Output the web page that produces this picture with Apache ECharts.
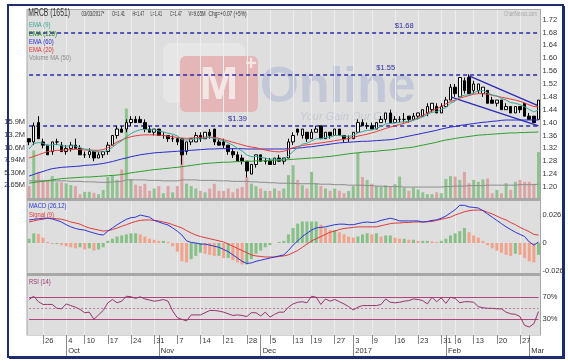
<!DOCTYPE html>
<html><head><meta charset="utf-8">
<script src="https://cdn.jsdelivr.net/npm/echarts@6/dist/echarts.min.js"></script>
<style>html,body{margin:0;padding:0;background:#fff}#c{width:568px;height:363px}</style>
</head><body><div id="c"></div>
<script>
const dates = ['2016-09-21','2016-09-22','2016-09-23','2016-09-26','2016-09-27','2016-09-28','2016-09-29','2016-09-30','2016-10-04','2016-10-05','2016-10-06','2016-10-07','2016-10-10','2016-10-11','2016-10-12','2016-10-13','2016-10-14','2016-10-17','2016-10-18','2016-10-19','2016-10-20','2016-10-21','2016-10-24','2016-10-25','2016-10-26','2016-10-27','2016-10-28','2016-10-31','2016-11-01','2016-11-02','2016-11-03','2016-11-04','2016-11-07','2016-11-08','2016-11-09','2016-11-10','2016-11-11','2016-11-14','2016-11-15','2016-11-16','2016-11-17','2016-11-18','2016-11-21','2016-11-22','2016-11-23','2016-11-24','2016-11-25','2016-11-28','2016-11-29','2016-11-30','2016-12-01','2016-12-02','2016-12-05','2016-12-06','2016-12-07','2016-12-08','2016-12-09','2016-12-13','2016-12-14','2016-12-15','2016-12-16','2016-12-19','2016-12-20','2016-12-21','2016-12-22','2016-12-23','2016-12-27','2016-12-28','2016-12-29','2016-12-30','2017-01-03','2017-01-04','2017-01-05','2017-01-06','2017-01-09','2017-01-10','2017-01-11','2017-01-12','2017-01-13','2017-01-16','2017-01-17','2017-01-18','2017-01-19','2017-01-20','2017-01-23','2017-01-24','2017-01-25','2017-01-26','2017-01-27','2017-01-31','2017-02-02','2017-02-03','2017-02-06','2017-02-07','2017-02-08','2017-02-10','2017-02-13','2017-02-14','2017-02-15','2017-02-16','2017-02-17','2017-02-20','2017-02-21','2017-02-22','2017-02-23','2017-02-24','2017-02-27','2017-02-28','2017-03-01','2017-03-02','2017-03-03'];

const openP = [1.35,1.34,1.40,1.34,1.33,1.31,1.34,1.33,1.31,1.32, 1.33,1.32,1.30,1.30,1.31,1.29,1.30,1.31,1.33,1.36, 1.38,1.38,1.40,1.41,1.41,1.40,1.38,1.37,1.38,1.36, 1.36,1.35,1.35,1.35,1.31,1.34,1.34,1.36,1.35,1.37, 1.38,1.34,1.34,1.33,1.31,1.30,1.29,1.28,1.24,1.27, 1.30,1.28,1.28,1.27,1.29,1.28,1.29,1.34,1.38,1.36, 1.37,1.35,1.37,1.39,1.35,1.37,1.36,1.38,1.36,1.35, 1.35,1.37,1.40,1.39,1.39,1.38,1.40,1.41,1.43,1.40, 1.41,1.41,1.42,1.41,1.42,1.42,1.43,1.44,1.45,1.43, 1.45,1.47,1.51,1.48,1.53,1.54,1.50,1.50,1.49,1.50, 1.47,1.46,1.47,1.44,1.45,1.43,1.45,1.46,1.42,1.42,1.41];
const highP = [1.35,1.40,1.42,1.35,1.33,1.34,1.35,1.34,1.33,1.34, 1.35,1.33,1.31,1.32,1.31,1.31,1.31,1.34,1.36,1.39, 1.39,1.41,1.42,1.42,1.42,1.41,1.39,1.38,1.38,1.37, 1.36,1.36,1.35,1.35,1.34,1.35,1.37,1.37,1.37,1.38, 1.38,1.35,1.35,1.33,1.32,1.31,1.30,1.28,1.27,1.30, 1.30,1.29,1.29,1.29,1.30,1.29,1.35,1.37,1.38,1.38, 1.37,1.38,1.39,1.39,1.37,1.37,1.38,1.38,1.36,1.36, 1.37,1.41,1.41,1.40,1.40,1.40,1.42,1.43,1.44,1.42, 1.42,1.43,1.42,1.43,1.43,1.44,1.46,1.46,1.46,1.46, 1.48,1.52,1.52,1.54,1.54,1.55,1.53,1.52,1.51,1.50, 1.48,1.47,1.47,1.46,1.45,1.45,1.45,1.46,1.43,1.42,1.47];
const lowP = [1.33,1.33,1.35,1.32,1.30,1.30,1.33,1.31,1.30,1.31, 1.32,1.30,1.29,1.29,1.28,1.29,1.29,1.30,1.33,1.35, 1.37,1.37,1.39,1.40,1.40,1.37,1.37,1.36,1.36,1.35, 1.34,1.34,1.33,1.27,1.30,1.33,1.34,1.34,1.35,1.35, 1.33,1.33,1.32,1.30,1.29,1.28,1.27,1.23,1.24,1.26, 1.28,1.27,1.27,1.27,1.28,1.27,1.29,1.33,1.36,1.35, 1.34,1.35,1.37,1.35,1.35,1.35,1.36,1.36,1.34,1.34, 1.35,1.37,1.39,1.38,1.38,1.38,1.40,1.40,1.40,1.40, 1.40,1.40,1.40,1.41,1.41,1.42,1.42,1.43,1.43,1.43, 1.45,1.47,1.48,1.48,1.49,1.49,1.49,1.49,1.48,1.46, 1.46,1.45,1.44,1.44,1.43,1.43,1.43,1.42,1.41,1.40,1.41];
const closeP = [1.34,1.39,1.35,1.33,1.30,1.34,1.34,1.31,1.32,1.33, 1.32,1.30,1.30,1.31,1.29,1.30,1.31,1.33,1.36,1.38, 1.37,1.40,1.41,1.40,1.40,1.38,1.37,1.38,1.36,1.36, 1.35,1.35,1.34,1.30,1.34,1.35,1.36,1.35,1.37,1.36, 1.34,1.33,1.33,1.31,1.30,1.28,1.28,1.25,1.27,1.30, 1.28,1.28,1.27,1.29,1.28,1.29,1.34,1.36,1.37,1.38, 1.35,1.37,1.38,1.35,1.37,1.36,1.38,1.36,1.35,1.35, 1.37,1.40,1.39,1.39,1.38,1.40,1.41,1.43,1.40,1.41, 1.41,1.41,1.41,1.42,1.43,1.44,1.45,1.46,1.43,1.45, 1.47,1.51,1.49,1.54,1.50,1.49,1.52,1.52,1.51,1.46, 1.46,1.47,1.44,1.45,1.43,1.45,1.44,1.42,1.41,1.40,1.47];
// volume in millions
const volume = [2.5,10.0,5.5,3.8,3.8,4.6,3.3,3.3,3.1,2.7, 2.5,0.8,1.3,1.3,1.1,0.8,1.7,4.4,4.8,3.8, 6.0,18.8,4.0,2.8,2.5,3.0,1.5,2.0,2.5,1.0, 2.5,1.2,2.5,12.2,3.0,2.5,2.0,1.5,1.2,2.0, 3.0,1.5,1.5,2.0,1.2,2.0,2.3,4.4,3.0,2.5, 2.0,1.5,1.5,2.0,1.5,2.0,4.8,6.9,3.8,2.7, 2.0,5.5,3.0,2.5,2.0,1.5,2.0,1.5,1.0,1.5, 2.5,9.5,4.4,3.8,3.0,2.5,2.4,2.7,2.4,2.9, 4.5,2.2,1.5,2.2,1.8,1.2,0.8,0.8,1.2,1.0, 4.0,4.6,4.5,3.8,5.5,3.1,3.8,3.4,3.9,4.1, 1.0,1.7,1.0,3.1,1.7,3.4,3.8,3.4,3.4,3.0,9.65];
const volMA50 = [3.6,3.6,3.6,3.6,3.6,3.6,3.6,3.6,3.6,3.5, 3.5,3.5,3.4,3.4,3.4,3.3,3.3,3.3,3.4,3.4, 3.5,3.8,3.8,3.8,3.8,3.8,3.7,3.7,3.7,3.6, 3.6,3.6,3.6,3.8,3.8,3.8,3.8,3.7,3.7,3.7, 3.7,3.6,3.6,3.6,3.5,3.5,3.5,3.5,3.4,3.4, 3.3,3.3,3.2,3.2,3.1,3.1,3.1,3.1,3.0,3.0, 3.0,3.0,3.0,2.9,2.9,2.9,2.8,2.8,2.8,2.7, 2.7,2.7,2.7,2.6,2.6,2.5,2.5,2.4,2.4,2.4, 2.4,2.3,2.3,2.3,2.3,2.3,2.3,2.3,2.3,2.3, 2.4,2.4,2.5,2.5,2.5,2.6,2.6,2.6,2.6,2.7, 2.7,2.7,2.7,2.7,2.7,2.7,2.8,2.8,2.8,2.8,2.9];
const ema9 = [1.318,1.335,1.338,1.336,1.329,1.331,1.333,1.328,1.327,1.328, 1.327,1.322,1.318,1.316,1.311,1.309,1.309,1.314,1.323,1.335, 1.343,1.356,1.366,1.373,1.378,1.379,1.377,1.378,1.374,1.371, 1.367,1.364,1.359,1.347,1.346,1.347,1.349,1.349,1.353,1.354, 1.351,1.347,1.344,1.337,1.330,1.320,1.312,1.300,1.294,1.295, 1.292,1.290,1.286,1.287,1.285,1.286,1.297,1.310,1.322,1.333, 1.336,1.343,1.350,1.350,1.354,1.355,1.360,1.360,1.358,1.357, 1.360,1.368,1.372,1.376,1.377,1.382,1.388,1.396,1.397,1.399, 1.401,1.403,1.404,1.407,1.412,1.417,1.425,1.432,1.434,1.441, 1.447,1.460,1.466,1.481,1.485,1.486,1.493,1.498,1.500,1.492, 1.486,1.483,1.475,1.470,1.462,1.460,1.456,1.449,1.441,1.433,1.440];
const ema20 = [1.290,1.295,1.300,1.305,1.310,1.312,1.314,1.314,1.315,1.316, 1.317,1.316,1.315,1.315,1.314,1.314,1.316,1.322,1.330,1.340, 1.346,1.352,1.356,1.359,1.361,1.362,1.362,1.362,1.361,1.360, 1.358,1.356,1.354,1.352,1.351,1.352,1.353,1.354,1.355,1.355, 1.354,1.351,1.347,1.343,1.339,1.335,1.331,1.327,1.324,1.322, 1.318,1.315,1.312,1.310,1.309,1.311,1.316,1.322,1.326,1.329, 1.331,1.333,1.335,1.337,1.339,1.341,1.344,1.346,1.348,1.351, 1.354,1.358,1.361,1.364,1.368,1.372,1.377,1.382,1.386,1.390, 1.394,1.398,1.402,1.408,1.415,1.422,1.429,1.436,1.443,1.450, 1.458,1.465,1.470,1.476,1.480,1.484,1.488,1.490,1.490,1.488, 1.485,1.482,1.479,1.476,1.473,1.470,1.466,1.461,1.455,1.450,1.449];
const ema60 = [1.234,1.239,1.244,1.248,1.253,1.257,1.259,1.261,1.262,1.263, 1.264,1.265,1.267,1.268,1.269,1.271,1.273,1.276,1.279,1.283, 1.287,1.290,1.294,1.297,1.300,1.302,1.304,1.306,1.307,1.308, 1.309,1.310,1.311,1.312,1.313,1.314,1.315,1.316,1.317,1.318, 1.318,1.319,1.319,1.319,1.319,1.319,1.319,1.318,1.318,1.318, 1.318,1.318,1.318,1.318,1.318,1.318,1.319,1.320,1.321,1.322, 1.324,1.325,1.327,1.329,1.331,1.333,1.335,1.337,1.338,1.339, 1.340,1.341,1.342,1.342,1.343,1.344,1.345,1.346,1.347,1.349, 1.352,1.355,1.358,1.361,1.364,1.367,1.370,1.373,1.376,1.380, 1.383,1.386,1.388,1.391,1.393,1.395,1.397,1.399,1.401,1.402, 1.404,1.405,1.407,1.408,1.408,1.408,1.408,1.408,1.408,1.408,1.408];
const ema120 = [1.212,1.214,1.216,1.218,1.220,1.222,1.224,1.226,1.227,1.228, 1.229,1.230,1.231,1.231,1.232,1.233,1.234,1.235,1.236,1.237, 1.239,1.241,1.244,1.246,1.248,1.250,1.252,1.254,1.255,1.257, 1.258,1.260,1.261,1.263,1.265,1.267,1.269,1.271,1.273,1.274, 1.275,1.276,1.277,1.277,1.278,1.279,1.279,1.280,1.280,1.281, 1.281,1.282,1.282,1.283,1.283,1.284,1.285,1.286,1.287,1.288, 1.289,1.290,1.291,1.292,1.294,1.295,1.297,1.299,1.301,1.303, 1.305,1.306,1.308,1.309,1.310,1.311,1.313,1.314,1.315,1.317, 1.319,1.321,1.322,1.324,1.327,1.330,1.333,1.336,1.339,1.343, 1.346,1.348,1.351,1.353,1.355,1.357,1.359,1.361,1.362,1.363, 1.364,1.365,1.366,1.367,1.368,1.368,1.369,1.369,1.370,1.370,1.371];
const macd = [.0214,.022,.0225,.023,.023,.0223,.021,.0195,.017,.015, .0135,.0125,.012,.0105,.0093,.008,.0074,.011,.014,.017, .0195,.022,.0235,.024,.026,.025,.024,.021,.0195,.018, .0167,.014,.011,.0074,.002,.0005,0,-.001,-.001,-.002, -.003,-.004,-.006,-.008,-.011,-.014,-.017,-.019,-.0185,-.017, -.016,-.015,-.014,-.013,-.012,-.011,-.007,-.002,.002,.006, .009,.012,.014,.0145,.015,.016,.017,.0175,.0175,.017, .017,.018,.019,.0195,.019,.0195,.021,.022,.023,.022, .0205,.0205,.0205,.0205,.0205,.0195,.02,.021,.0215,.023, .025,.028,.031,.035,.035,.0335,.033,.0325,.03,.027, .024,.021,.018,.015,.0125,.01,.008,.006,.001,-.002,.001];
const signal = [.0195,.0205,.0215,.022,.023,.023,.0225,.022,.021,.0195, .0186,.0175,.0155,.0139,.013,.012,.0111,.0115,.0125,.0139, .0155,.017,.0186,.02,.021,.0214,.0214,.021,.0205,.0195, .0185,.017,.0155,.014,.0115,.0093,.0074,.006,.005,.004, .003,.002,.001,-.001,-.003,-.005,-.007,-.009,-.011,-.012, -.0125,-.013,-.013,-.013,-.0125,-.012,-.011,-.009,-.007,-.004, -.001,.002,.004,.006,.008,.01,.011,.0125,.0135,.014, .0145,.015,.015,.015,.015,.015,.016,.017,.018,.0185, .0186,.019,.019,.0195,.0195,.0195,.0197,.02,.021,.022, .023,.024,.026,.0275,.029,.03,.0305,.0306,.0303,.0285, .027,.025,.023,.0214,.019,.017,.0145,.0125,.0105,.008,.0074];
const macdHist = [.004,.009,.0085,.005,.001,-.001,-.001,-.002,-.003,-.004, -.005,-.004,-.006,-.005,-.007,-.006,-.004,.002,.004,.006, .007,.008,.009,.009,.008,.006,.004,.003,.002,.002, .001,-.003,-.008,-.017,-.018,-.015,-.012,-.009,-.010,-.011, -.012,-.012,-.014,-.014,-.016,-.018,-.020,-.020,-.015,-.010, -.007,-.004,-.002,0,.001,.002,.008,.014,.018,.020, .020,.020,.020,.017,.014,.012,.012,.010,.008,.006, .005,.006,.008,.009,.008,.009,.006,.007,.007,.005, .004,.004,.003,.003,.002,.002,.002,.0015,.001,.002, .004,.007,.009,.011,.014,.010,.007,.005,.002,-.002, -.005,-.007,-.009,-.011,-.012,-.010,-.011,-.014,-.017,-.018,-.011];
const rsi14 = [66,72,62,57,57,57,50,49,58,55, 52,48,42,43,30,38,46,60,66,60, 63,72,71,68,71,67,65,63,64,66, 63,45,33,30,27,38,38,38,42,46, 46,45,43,40,37,38,37,35,42,42, 36,43,34,39,43,43,52,58,61,62, 60,72,70,57,67,63,66,62,58,53, 47,52,55,55,55,55,57,67,61,60, 61,63,64,67,66,64,58,70,62,69, 59,70,68,60,62,62,61,53,51,50, 50,49,49,43,40,39,35,19,16,22,44];

const weekTickIdx = [3,8,12,17,22,27,32,37,42,47,52,57,61,66,70,74,79,84,89,92,96,101,106];
const monthTickIdx = [8,28,50,70,90,108];
const monthTickText = ['Oct','Nov','Dec','2017','Feb','Mar'];
const priceTicks = [1.20,1.24,1.28,1.32,1.36,1.40,1.44,1.48,1.52,1.56,1.60,1.64,1.68,1.72];
const volTicks = [2.648,5.296,7.944,10.592,13.24,15.888];
const macdTicks = [-0.026,0,0.026];
const rsiTicks = [30,70];
const levelPrices = [1.68,1.55,1.39];
const levelLabelIdx = [81,77,45];
const trendUpper = [[95,1.545],[110,1.452]];
const trendLower = [[91,1.48],[110,1.39]];

// ---------- layout ----------
const X0 = 29.1, X1 = 538.5;
const mainTop = 10, mainBot = 198, macdTop = 201, macdBot = 273, rsiTop = 276, rsiBot = 335;
const pricePx = 322, priceRefY = 187, priceRef = 1.20;
const volPerPx = 0.21016;
const macdPx = 28/0.026, macdZeroY = 243;
const rsiPx = 0.55, rsi30Y = 319.3;
const priceMax = priceRef + (priceRefY - mainTop)/pricePx;
const priceMin = priceRef - (mainBot - priceRefY)/pricePx;
const volMax = (mainBot - mainTop)*volPerPx;
const macdMax = (macdZeroY - macdTop)/macdPx, macdMin = -(macdBot - macdZeroY)/macdPx;
const rsiMin = 30 - (rsiBot - rsi30Y)/rsiPx, rsiMax = 30 + (rsi30Y - rsiTop)/rsiPx;

const weekSet = new Set(weekTickIdx);
const monthMap = new Map(monthTickIdx.map((v,i)=>[v, monthTickText[i]]));
const FONT = 'Liberation Sans, Arial, sans-serif';
const gridLineColor = '#ededed';
const volUp = '#8fc28f', volDown = '#dca4a4';
const histUp = '#86c086', histDown = '#f2a38c';
const N = dates.length;
const last = N - 1;

function xAx(gi, extra) {
  return Object.assign({
    type:'category', gridIndex:gi, data:dates, boundaryGap:false,
    axisLine:{show:false}, axisTick:{show:false}, axisLabel:{show:false},
    splitLine:{show:true, interval:(i)=>weekSet.has(i), lineStyle:{color:gridLineColor, width:1}}
  }, extra || {});
}
const yLbl = {fontSize:7.5, color:'#333', fontFamily:FONT, margin:4};

const chart = echarts.init(document.getElementById('c'));
const candleData = dates.map((d,i)=>[openP[i], closeP[i], lowP[i], highP[i]]);
const chg = closeP[last] - closeP[last-1];

const mctx = document.createElement('canvas').getContext('2d');
// text squeezed horizontally to a target width (the reference uses condensed type)
function fitTxt(x, y, text, fill, size, width, align) {
  mctx.font = size + 'px ' + FONT;
  const w = mctx.measureText(text).width;
  const a = align || 'left';
  return {type:'text', x:x, y:y, z:100, scaleX: width ? width / w : 0.78,
    style:{text:text, fill:fill, font:size+'px '+FONT, textAlign:a, align:a, textVerticalAlign:'middle', verticalAlign:'middle'}};
}
const leg = (y, text, fill) => fitTxt(29, y, text, fill, 7.5, null);

const option = {
  animation:false,
  backgroundColor:'#fff',
  grid:[
    {left:X0, right:568-X1, top:mainTop, height:mainBot-mainTop},
    {left:X0, right:568-X1, top:macdTop, height:macdBot-macdTop},
    {left:X0, right:568-X1, top:rsiTop, height:rsiBot-rsiTop}
  ],
  xAxis:[
    xAx(0), xAx(1),
    xAx(2, {
      axisLabel:{show:true, interval:(i)=>weekSet.has(i), formatter:(v)=>String(parseInt(v.slice(8),10)),
        fontSize:7.5, color:'#333', fontFamily:FONT, align:'left', padding:[0,0,0,2], margin:2},
      axisTick:{show:true, interval:(i)=>weekSet.has(i), length:9, lineStyle:{color:'#8a8a8a'}}
    }),
    xAx(2, {
      position:'bottom', splitLine:{show:false},
      axisLabel:{show:true, interval:(i)=>monthMap.has(i), formatter:(v,i)=>monthMap.get(i)||'',
        fontSize:7.5, color:'#333', fontFamily:FONT, align:'left', padding:[0,0,0,2], margin:12},
      axisTick:{show:true, interval:(i)=>monthMap.has(i), length:21, lineStyle:{color:'#8a8a8a'}}
    })
  ],
  yAxis:[
    {type:'value', gridIndex:0, position:'left', min:0, max:volMax, axisLine:{show:false}, axisTick:{show:false}, splitLine:{show:false},
      axisLabel:Object.assign({customValues:volTicks, formatter:(v)=>v.toPrecision(3)+'M'}, yLbl)},
    {type:'value', gridIndex:0, position:'right', min:priceMin, max:priceMax, axisLine:{show:false}, axisTick:{show:false}, splitLine:{show:false},
      axisLabel:Object.assign({customValues:priceTicks, formatter:(v)=>v.toFixed(2)}, yLbl)},
    {type:'value', gridIndex:1, position:'right', min:macdMin, max:macdMax, axisLine:{show:false}, axisTick:{show:false}, splitLine:{show:false},
      axisLabel:Object.assign({customValues:macdTicks, formatter:(v)=>Math.abs(v)<1e-9?'0':v.toFixed(3)}, yLbl)},
    {type:'value', gridIndex:2, position:'right', min:rsiMin, max:rsiMax, axisLine:{show:false}, axisTick:{show:false}, splitLine:{show:false},
      axisLabel:Object.assign({customValues:rsiTicks, formatter:(v)=>v+'%'}, yLbl)}
  ],
  series:[
    {type:'bar', name:'Volume', xAxisIndex:0, yAxisIndex:0, barWidth:3, clip:false, silent:true, z:1,
      data:volume.map((v,i)=>({value:v, itemStyle:{color: closeP[i]>=openP[i]?volUp:volDown}}))},
    {type:'line', name:'Volume MA (50)', xAxisIndex:0, yAxisIndex:0, data:volMA50, symbol:'none', silent:true, z:2,
      lineStyle:{color:'#8c8c8c', width:1}},
    {type:'candlestick', name:'MRCB', xAxisIndex:0, yAxisIndex:1, data:candleData, barWidth:3, clip:false, z:5, silent:true,
      itemStyle:{color:'#ffffff', color0:'#000000', borderColor:'#000000', borderColor0:'#000000', borderColorDoji:'#000000', borderWidth:1},
      markLine:{silent:true, symbol:['none','none'], label:{show:false}, animation:false,
        lineStyle:{color:'#2b2ba8', type:[4,3], width:1.5},
        data: levelPrices.map(v=>({yAxis:v})).concat([
          [{coord:[dates[trendUpper[0][0]], trendUpper[0][1]], lineStyle:{type:'solid', width:1.3, color:'#2a2ab8'}}, {coord:[dates[trendUpper[1][0]], trendUpper[1][1]]}],
          [{coord:[dates[trendLower[0][0]], trendLower[0][1]], lineStyle:{type:'solid', width:1.3, color:'#2a2ab8'}}, {coord:[dates[trendLower[1][0]], trendLower[1][1]]}]
        ])},
      markPoint:{silent:true, symbol:'rect', symbolSize:[1,1], itemStyle:{color:'rgba(0,0,0,0)'}, animation:false,
        label:{show:true, position:'top', distance:2, color:'#2b2ba8', fontSize:7.5, fontFamily:FONT, formatter:'{b}'},
        data: levelPrices.map((v,i)=>({name:'$'+v.toFixed(2), coord:[dates[levelLabelIdx[i]], v]}))}
    },
    {type:'line', name:'EMA (120)', xAxisIndex:0, yAxisIndex:1, data:ema120, symbol:'none', silent:true, z:6, lineStyle:{color:'#2f9e2f', width:1}},
    {type:'line', name:'EMA (60)', xAxisIndex:0, yAxisIndex:1, data:ema60, symbol:'none', silent:true, z:6, lineStyle:{color:'#2a2ad0', width:1}},
    {type:'line', name:'EMA (20)', xAxisIndex:0, yAxisIndex:1, data:ema20, symbol:'none', silent:true, z:6, lineStyle:{color:'#e83c3c', width:1}},
    {type:'line', name:'EMA (9)', xAxisIndex:0, yAxisIndex:1, data:ema9, symbol:'none', silent:true, z:6, lineStyle:{color:'#3aa898', width:1}},
    {type:'bar', name:'Hist', xAxisIndex:1, yAxisIndex:2, barWidth:3, clip:false, silent:true, z:2,
      data:macdHist.map((v,i)=>({value:v, itemStyle:{color:(i===0||v>=macdHist[i-1])?histUp:histDown}}))},
    {type:'line', name:'Signal (9)', xAxisIndex:1, yAxisIndex:2, data:signal, symbol:'none', silent:true, z:4, lineStyle:{color:'#e03a3a', width:1}},
    {type:'line', name:'MACD (26,12)', xAxisIndex:1, yAxisIndex:2, data:macd, symbol:'none', silent:true, z:5, lineStyle:{color:'#2a36d2', width:1}},
    {type:'line', name:'RSI (14)', xAxisIndex:2, yAxisIndex:3, data:rsi14, symbol:'none', silent:true, z:5, lineStyle:{color:'#99336b', width:1},
      markLine:{silent:true, symbol:['none','none'], label:{show:false}, animation:false,
        lineStyle:{color:'#b0457f', type:'solid', width:1},
        data:[{yAxis:70},{yAxis:30},{yAxis:50, lineStyle:{type:[2,2], color:'#c07aa0'}}]}}
  ],
  graphic:{elements:[
    {type:'rect', z:-100, shape:{x:8, y:5, width:555, height:352}, style:{fill:'#ffffff', stroke:'#1d2d6e', lineWidth:2}},
    {type:'rect', z:-99, shape:{x:562, y:6, width:3, height:353}, style:{fill:'#1d2d6e'}},
    {type:'rect', z:-99, shape:{x:9, y:356, width:556, height:3}, style:{fill:'#1d2d6e'}},
    {type:'rect', z:-90, shape:{x:26.5, y:mainTop-1, width:514.5, height:rsiBot-mainTop+1.5}, style:{fill:'#a7a7a7'}},
    {type:'rect', z:-80, shape:{x:27.5, y:mainTop, width:512.5, height:mainBot-mainTop}, style:{fill:'#dedede'}},
    {type:'rect', z:-80, shape:{x:27.5, y:macdTop, width:512.5, height:macdBot-macdTop}, style:{fill:'#dedede'}},
    {type:'rect', z:-80, shape:{x:27.5, y:rsiTop, width:512.5, height:rsiBot-rsiTop}, style:{fill:'#dedede'}},
    // watermark
    {type:'rect', z:-70, shape:{x:163, y:43, width:82, height:60, r:8}, style:{fill:'#e6e6e6'}},
    {type:'rect', z:-69, shape:{x:180, y:56, width:78, height:56, r:6}, style:{fill:'#e4b6b8'}},
    {type:'text', z:-68, x:219, y:86, style:{text:'M', fill:'#f5e6e6', font:'bold 46px '+FONT, textAlign:'center', align:'center', textVerticalAlign:'middle', verticalAlign:'middle'}},
    {type:'text', z:-68, x:251, y:64, style:{text:'+', fill:'#f5e6e6', font:'bold 20px '+FONT, textAlign:'center', align:'center', textVerticalAlign:'middle', verticalAlign:'middle'}},
    {type:'text', z:-68, x:260, y:88, style:{text:'Online', fill:'#c3c8d8', font:'bold 50px '+FONT, textAlign:'left', align:'left', textVerticalAlign:'middle', verticalAlign:'middle'}},
    {type:'text', z:-68, x:300, y:117, style:{text:'Your Gain Our Goal', fill:'#c6c9d3', font:'italic 11px '+FONT, textAlign:'left', align:'left', textVerticalAlign:'middle', verticalAlign:'middle'}},
    // header (values taken from the last candle)
    fitTxt(28.3, 13.5, 'MRCB (1651)', '#333', 10.5, 41.7),
    fitTxt(81.5, 13.5, '03/03/2017*', '#333', 8, 23),
    fitTxt(112, 13.5, 'O='+openP[last].toFixed(2), '#333', 8, 13),
    fitTxt(132.5, 13.5, 'H='+highP[last].toFixed(2), '#333', 8, 11.8),
    fitTxt(150.5, 13.5, 'L='+lowP[last].toFixed(2), '#333', 8, 11.5),
    fitTxt(170, 13.5, 'C='+closeP[last].toFixed(2), '#333', 8, 11.8),
    fitTxt(188.5, 13.5, 'V='+volume[last].toFixed(2)+'M', '#333', 8, 17),
    fitTxt(208.5, 13.5, 'Chg='+(chg>=0?'+':'')+chg.toFixed(2)+' (+'+Math.round(chg/closeP[last-1]*100)+'%)', '#333', 8, 38),
    fitTxt(537, 13.5, 'ChartNexus.com', '#a8a8a8', 7.5, 33, 'right'),
    // legends
    leg(25, 'EMA (9)', '#35a592'),
    leg(33.5, 'EMA (120)', '#127a12'),
    leg(42, 'EMA (60)', '#2a2ad0'),
    leg(50, 'EMA (20)', '#e03030'),
    leg(58, 'Volume MA (50)', '#8a8a8a'),
    leg(206, 'MACD (26,12)', '#2a36d2'),
    leg(214.5, 'Signal (9)', '#e03a3a'),
    leg(282, 'RSI (14)', '#99336b')
  ]}
};
chart.setOption(option);
</script>
</body></html>
